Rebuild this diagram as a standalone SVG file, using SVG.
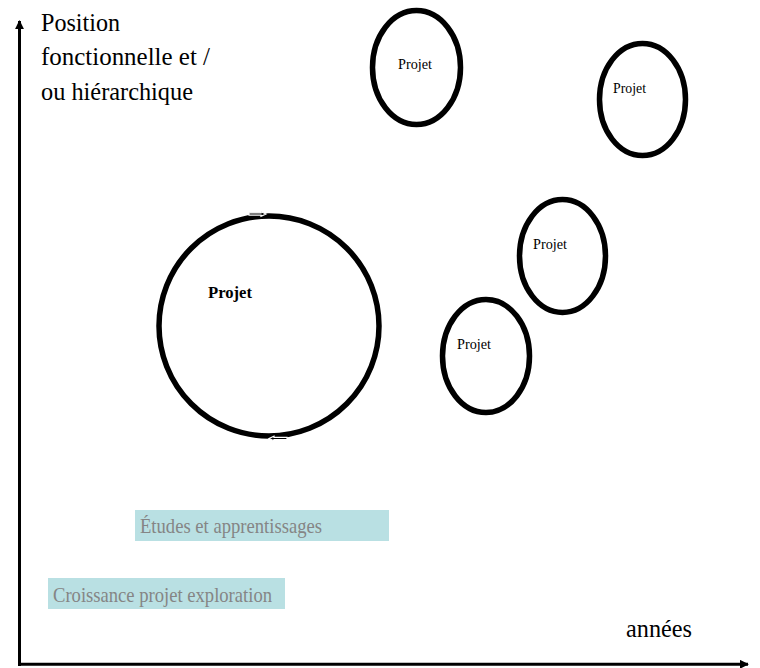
<svg xmlns="http://www.w3.org/2000/svg" width="760" height="668" viewBox="0 0 760 668">
  <style>
    .ring { fill: #ffffff; stroke: #000000; stroke-width: 5.5; }
    .lbl { font-family: "Liberation Serif", "Times New Roman", serif; fill: #000000; }
    .small { font-size: 15px; }
    .axis-t { font-size: 26px; }
    .box { fill: #b9e0e3; }
    .boxt { font-family: "Liberation Serif", "Times New Roman", serif; font-size: 21px; fill: #858585; }
    .axis { stroke: #000000; stroke-width: 3; fill: none; }
    .warrow { stroke: #ffffff; stroke-width: 1.2; fill: #000000; stroke-linejoin: miter; }
  </style>
  <defs>
    <marker id="ah" viewBox="0 0 10 10" refX="9" refY="5" markerWidth="3" markerHeight="3" orient="auto" markerUnits="strokeWidth">
      <path d="M0,0 L10,5 L0,10 Z" fill="#000000"/>
    </marker>
  </defs>
  <rect x="0" y="0" width="760" height="668" fill="#ffffff"/>

  <g id="connectors">
    <line class="axis" x1="19.5" y1="666" x2="19.5" y2="21" marker-end="url(#ah)"/>
    <line class="axis" x1="18" y1="664.3" x2="748" y2="664.3" marker-end="url(#ah)"/>
  </g>

  <g id="axis-y-label">
    <text class="lbl axis-t" x="41" y="31" textLength="79" lengthAdjust="spacingAndGlyphs">Position</text>
    <text class="lbl axis-t" x="41" y="65" textLength="169" lengthAdjust="spacingAndGlyphs">fonctionnelle et /</text>
    <text class="lbl axis-t" x="41" y="100" textLength="152" lengthAdjust="spacingAndGlyphs">ou hiérarchique</text>
  </g>

  <g id="axis-x-label">
    <text class="lbl axis-t" x="626" y="637" textLength="66" lengthAdjust="spacingAndGlyphs">années</text>
  </g>

  <g id="projet-big">
    <circle class="ring" cx="269" cy="326" r="110"/>
    <polygon class="warrow" points="249,212.8 261,212.8 261,211.6 266,214 261,216.4 261,215.2 249,215.2"/>
    <polygon class="warrow" points="287,437.3 274,437.3 274,436.1 269,438.5 274,440.9 274,439.7 287,439.7"/>
    <text class="lbl" x="208" y="298" font-size="16" font-weight="bold" textLength="44" lengthAdjust="spacingAndGlyphs">Projet</text>
  </g>

  <g id="projet-1">
    <ellipse class="ring" cx="416.5" cy="67.5" rx="44" ry="57"/>
    <text class="lbl small" x="398" y="69" textLength="34" lengthAdjust="spacingAndGlyphs">Projet</text>
  </g>

  <g id="projet-2">
    <ellipse class="ring" cx="642.5" cy="99.5" rx="43" ry="56"/>
    <text class="lbl small" x="613" y="93" textLength="33" lengthAdjust="spacingAndGlyphs">Projet</text>
  </g>

  <g id="projet-3">
    <ellipse class="ring" cx="562.5" cy="256" rx="43" ry="56.5"/>
    <text class="lbl small" x="533" y="249" textLength="34" lengthAdjust="spacingAndGlyphs">Projet</text>
  </g>

  <g id="projet-4">
    <ellipse class="ring" cx="486" cy="356" rx="43.5" ry="56.5"/>
    <text class="lbl small" x="457" y="349" textLength="34" lengthAdjust="spacingAndGlyphs">Projet</text>
  </g>

  <g id="etudes">
    <rect class="box" x="135" y="510" width="254" height="31"/>
    <text class="boxt" x="140" y="533" textLength="182" lengthAdjust="spacingAndGlyphs">Études et apprentissages</text>
  </g>

  <g id="croissance">
    <rect class="box" x="48" y="578" width="237" height="31"/>
    <text class="boxt" x="53" y="602" textLength="219" lengthAdjust="spacingAndGlyphs">Croissance projet exploration</text>
  </g>
</svg>
